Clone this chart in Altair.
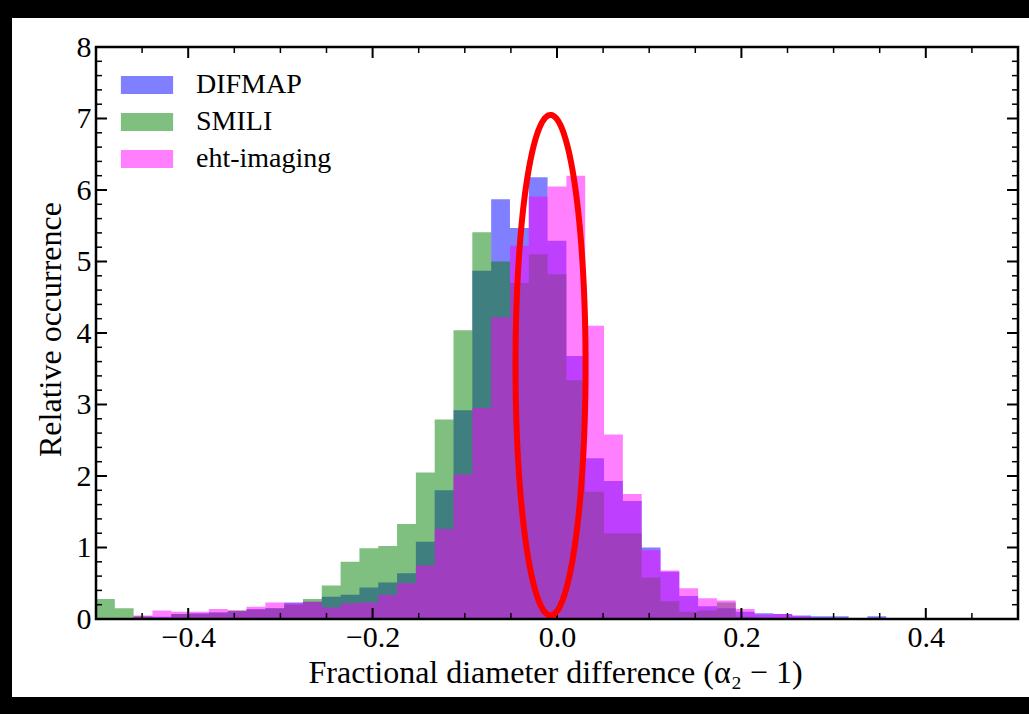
import altair as alt
import numpy as np
import pandas as pd

# ---------------- data ----------------
SERIES = ["DIFMAP", "SMILI", "eht-imaging"]
COLORS = ["#0000ff", "#008000", "#ff00ff"]

N_BINS = 49
X_MIN, X_MAX = -0.5, 0.5
bin_edges = [X_MIN + k * (X_MAX - X_MIN) / N_BINS for k in range(N_BINS + 1)]

difmap = [0.0, 0.0, 0.03, 0.03, 0.07, 0.08, 0.09, 0.11, 0.14, 0.15,
          0.23, 0.24, 0.31, 0.34, 0.44, 0.51, 0.64, 1.08, 1.80, 2.92,
          4.87, 5.87, 5.47, 6.18, 5.29, 3.68, 2.25, 1.93, 1.65, 1.00,
          0.66, 0.32, 0.18, 0.15, 0.10, 0.08, 0.07, 0.05, 0.04, 0.04,
          0.0, 0.04, 0.0, 0.0, 0.0, 0.0, 0.0, 0.0, 0.0]
smili = [0.28, 0.15, 0.04, 0.02, 0.07, 0.07, 0.09, 0.12, 0.13, 0.15,
         0.20, 0.28, 0.47, 0.80, 0.99, 1.02, 1.33, 2.05, 2.79, 4.04,
         5.41, 5.00, 4.70, 5.10, 4.82, 3.34, 1.78, 1.20, 1.20, 0.58,
         0.25, 0.10, 0.12, 0.23, 0.03, 0.02, 0.01, 0.0, 0.0, 0.0,
         0.0, 0.0, 0.0, 0.0, 0.0, 0.0, 0.0, 0.0, 0.0]
eht = [0.0, 0.0, 0.05, 0.12, 0.10, 0.10, 0.14, 0.12, 0.17, 0.23,
       0.22, 0.24, 0.16, 0.22, 0.23, 0.34, 0.50, 0.75, 1.26, 2.02,
       2.95, 4.22, 5.22, 5.91, 6.05, 6.20, 4.10, 2.58, 1.75, 0.96,
       0.68, 0.43, 0.29, 0.26, 0.14, 0.06, 0.07, 0.04, 0.01, 0.01,
       0.0, 0.01, 0.0, 0.0, 0.0, 0.0, 0.0, 0.0, 0.0]

x_major = [-0.4, -0.2, 0.0, 0.2, 0.4]
x_minor = [-0.45, -0.35, -0.3, -0.25, -0.15, -0.1, -0.05,
           0.05, 0.1, 0.15, 0.25, 0.3, 0.35, 0.45]
y_major = [0, 1, 2, 3, 4, 5, 6, 7, 8]
y_minor = [m + f for m in range(8) for f in (0.2, 0.4, 0.6, 0.8)]

# red ellipse annotation (data coords)
ELL_CX, ELL_CY, ELL_RX, ELL_RY = -0.007, 3.55, 0.038, 3.5

# ---------------- layout ----------------
W, H = 922, 572
PAD_L, PAD_T = 96, 47
FONT = "Liberation Serif"

rows = []
for name, vals in zip(SERIES, [difmap, smili, eht]):
    for i, v in enumerate(vals):
        rows.append({"series": name, "x": bin_edges[i], "v": v})
    rows.append({"series": name, "x": bin_edges[-1], "v": vals[-1]})
hist_df = pd.DataFrame(rows)

xscale = alt.Scale(domain=[X_MIN, X_MAX], nice=False, zero=False)
yscale = alt.Scale(domain=[0, 8], nice=False, zero=False)

X_AXIS = alt.Axis(values=x_major, format=".1f", ticks=False, tickSize=0, domain=False,
                  grid=False, labelFont=FONT, labelFontSize=30, labelPadding=3,
                  labelColor="black", labelFlush=False,
                  title="Fractional diameter difference (α₂ − 1)",
                  titleFont=FONT, titleFontSize=32, titleFontWeight="normal",
                  titleColor="black", titleX=459, titleY=53, titleAlign="center",
                  titleBaseline="middle", zindex=1)
Y_AXIS = alt.Axis(values=y_major, format="d", ticks=False, tickSize=0, domain=False,
                  grid=False, labelFont=FONT, labelFontSize=30, labelPadding=5,
                  labelColor="black", labelFlush=False,
                  title="Relative occurrence", titleFont=FONT, titleFontSize=32,
                  titleFontWeight="normal", titleColor="black", titleAngle=-90,
                  titleX=-46, titleY=282, titleAlign="center", titleBaseline="middle",
                  zindex=1)


def X(field="x"):
    return alt.X(f"{field}:Q", scale=xscale, axis=X_AXIS)


def Y(field="v"):
    return alt.Y(f"{field}:Q", scale=yscale, axis=Y_AXIS, stack=None)


bg = alt.Chart(alt.Data(values=[{"a": 1}])).mark_rect(color="white").encode(
    x=alt.value(-84), x2=alt.value(933), y=alt.value(-29), y2=alt.value(650)
)

hist = alt.Chart(hist_df).mark_area(interpolate="step-after", opacity=0.5, clip=True).encode(
    x=X(), y=Y(),
    color=alt.Color("series:N", scale=alt.Scale(domain=SERIES, range=COLORS),
                    legend=alt.Legend(title=None, orient="none", legendX=37, legendY=24,
                                      symbolType="M-2.9,-1H2.9V1H-2.9Z", symbolSize=324,
                                      symbolOpacity=0.5, symbolStrokeWidth=0,
                                      labelFont=FONT, labelFontSize=28, labelColor="black",
                                      labelOffset=35, rowPadding=9, padding=0, zindex=1)),
)

ell_t = np.linspace(0, 2 * np.pi, 240)
ell_df = pd.DataFrame({"x": ELL_CX + ELL_RX * np.cos(ell_t),
                       "v": ELL_CY + ELL_RY * np.sin(ell_t),
                       "k": np.arange(len(ell_t))})
ellipse = alt.Chart(ell_df).mark_line(color="#ff0000", strokeWidth=6).encode(
    x=X(), y=Y(), order="k:Q",
)

MAJ, MIN = 11, 6


def xticks(vals, length, width):
    d = pd.DataFrame({"x": vals})
    bottom = alt.Chart(d).mark_rule(color="black", strokeWidth=width).encode(
        x=X(), y=alt.value(H), y2=alt.value(H - length))
    top = alt.Chart(d).mark_rule(color="black", strokeWidth=width).encode(
        x=X(), y=alt.value(0), y2=alt.value(length))
    return [bottom, top]


def yticks(vals, length, width):
    d = pd.DataFrame({"v": vals})
    left = alt.Chart(d).mark_rule(color="black", strokeWidth=width).encode(
        y=Y(), x=alt.value(0), x2=alt.value(length))
    right = alt.Chart(d).mark_rule(color="black", strokeWidth=width).encode(
        y=Y(), x=alt.value(W), x2=alt.value(W - length))
    return [left, right]


ticks = (xticks(x_major, MAJ, 2) + xticks(x_minor, MIN, 1.5)
         + yticks(y_major, MAJ, 2) + yticks(y_minor, MIN, 1.5))

frame = alt.Chart(alt.Data(values=[{"a": 1}])).mark_rect(
    fillOpacity=0, stroke="black", strokeWidth=2.5).encode(
    x=alt.value(0), x2=alt.value(W), y=alt.value(0), y2=alt.value(H))

chart = alt.layer(bg, hist, *ticks, ellipse, frame).properties(
    width=W, height=H,
    padding={"left": PAD_L, "top": PAD_T, "right": 1029 - PAD_L - W, "bottom": 714 - PAD_T - H},
    autosize=alt.AutoSizeParams(type="none"),
    background="black",
).configure_view(stroke=None)

chart.save("out.html", embed_options={"renderer": "svg", "actions": False})
